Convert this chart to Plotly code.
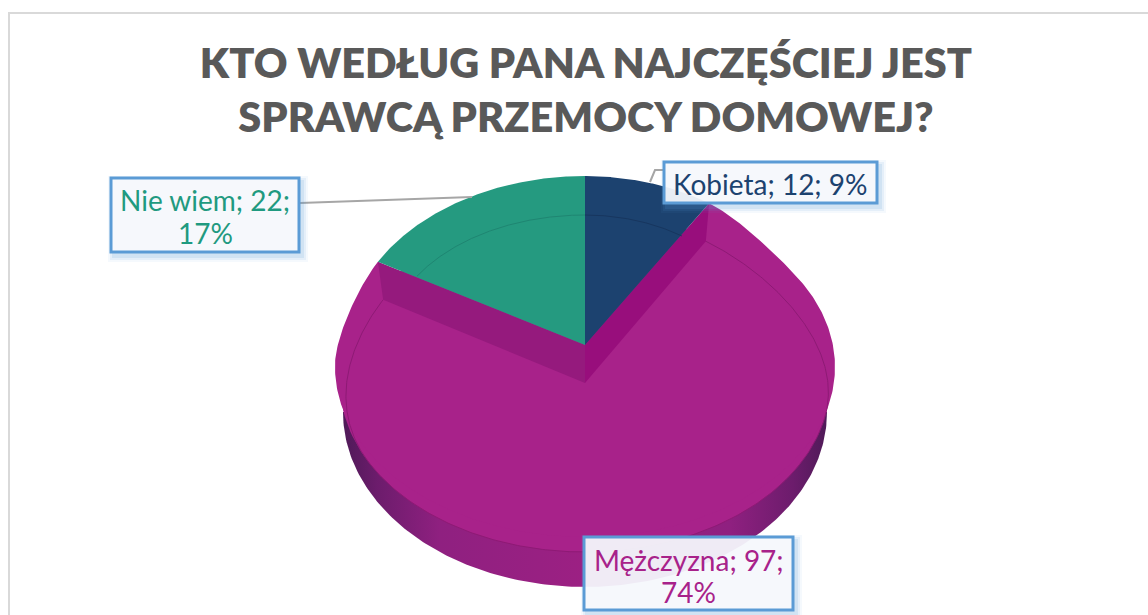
import numpy as np
import plotly.graph_objects as go

categories = ["Kobieta", "Mężczyzna", "Nie wiem"]
values = [12, 97, 22]
percent_labels = ["9%", "74%", "17%"]
title_lines = ["KTO WEDŁUG PANA NAJCZĘŚCIEJ JEST", "SPRAWCĄ PRZEMOCY DOMOWEJ?"]

NAVY, MAG, TEAL = "#1c426f", "#a8228a", "#259a80"
FONT = "Lato"

total = sum(values)
a0 = 0.0
a1 = a0 + 360 * values[0] / total
a2 = a1 + 360 * values[1] / total
a3 = 360.0


def pt(theta, cx, cy, rx, ry):
    t = np.radians(theta)
    return cx + rx * np.sin(t), cy - ry * np.cos(t)


def arc(t0, t1, cx, cy, rx, ry, n=200):
    return pt(np.linspace(t0, t1, n), cx, cy, rx, ry)


def smooth(u):
    u = np.clip(u, 0, 1)
    return u * u * (3 - 2 * u)


CX = 585
TOP_L = (CX, 345, 238, 169)
TOP_R = (CX, 345, 228, 169)
OUTER = (CX, 367, 250, 170)
FACE = (CX, 383, 245, 169)
SIDE = (CX, 412, 242, 175)

fig = go.Figure()


def poly(x, y, color):
    fig.add_trace(go.Scatter(x=list(x), y=list(y), mode="lines", fill="toself",
                             fillcolor=color, line=dict(width=0, color=color),
                             hoverinfo="skip", showlegend=False))


def line(x, y, color, width=1):
    fig.add_trace(go.Scatter(x=list(x), y=list(y), mode="lines",
                             line=dict(width=width, color=color),
                             hoverinfo="skip", showlegend=False))


# extruded side with horizontal shading
sx, sy = arc(90, 270, *SIDE)
fig.add_trace(go.Scatter(
    x=list(sx), y=list(sy), mode="lines", fill="toself", line=dict(width=0),
    fillgradient=dict(type="horizontal", colorscale=[
        [0, "#4f1a58"], [0.07, "#6c1c6c"], [0.2, "#8f2080"], [0.5, "#9c2083"],
        [0.8, "#8f2080"], [0.93, "#6c1c6c"], [1, "#4f1a58"]]),
    hoverinfo="skip", showlegend=False))

# magenta top face: silhouette eases from the pie rim to the exploded rim
th = np.linspace(a1, a2, 400)
w = smooth((th - a1) / 28) * smooth((a2 - th) / 28)
rx0 = np.where(th < 180, TOP_R[2], TOP_L[2])
rad = np.radians(th)
ox = CX + (OUTER[2] * w + rx0 * (1 - w)) * np.sin(rad)
oy = OUTER[1] * w + TOP_L[1] * (1 - w) - (OUTER[3] * w + TOP_L[3] * (1 - w)) * np.cos(rad)
fx, fy = arc(0, 360, *FACE)
poly(fx, fy, MAG)
poly(list(ox) + [CX], list(oy) + [FACE[1]], MAG)

# thin inner rim line of the magenta slice
w2 = smooth((th - a1) / 70)
w3 = smooth((a2 - th) / 60)
rxs = 222 + (245 - 222) * w2 + (232 - 245) * (1 - w3)
ix = CX + rxs * np.sin(rad)
iy = FACE[1] - FACE[3] * np.cos(rad)
line(ix, iy, "#8e1a75", 1)

# walls exposed by the exploded slice
tx, ty = pt(a2, *TOP_L)
bx, by = pt(a1, *TOP_R)
poly([tx, CX, CX, ix[-1]], [ty, TOP_L[1], FACE[1], iy[-1]], "#951a7d")
poly([bx, CX, CX, ix[0]], [by, TOP_L[1], FACE[1], iy[0]], "#980e7c")

# upper wedges
ax_, ay_ = arc(a0, a1, *TOP_R)
poly([CX] + list(ax_), [TOP_R[1]] + list(ay_), NAVY)
cx_, cy_ = arc(a2, a3, *TOP_L)
poly([CX] + list(cx_), [TOP_L[1]] + list(cy_), TEAL)
lx, ly = arc(a2, a3, CX, 345, 198, 130)
line(lx[8:], ly[8:], "#1f8672", 1)
lx, ly = arc(a0, a1, CX, 345, 178, 130)
line(lx, ly, "#17365f", 1)

# leader lines
line([300, 472], [203, 197], "#a6a6a6", 2)
line([650, 655, 664], [182, 170, 170], "#a6a6a6", 2)

shapes = [dict(type="rect", x0=9, y0=13, x1=1170, y1=640, xref="x", yref="y",
               line=dict(color="#d9d9d9", width=2), fillcolor="rgba(0,0,0,0)", layer="below")]
boxes = [(664, 162, 877, 203), (584, 537, 793, 610), (111, 178, 299, 252)]
for b in boxes:
    for grow, alpha in ((6, 0.06), (4, 0.10), (2, 0.14)):
        shapes.append(dict(type="rect", x0=b[0] + 3 - grow, y0=b[1] + 4 - grow,
                           x1=b[2] + 3 + grow, y1=b[3] + 4 + grow, xref="x", yref="y",
                           line=dict(width=0), fillcolor=f"rgba(91,155,213,{alpha})"))
    shapes.append(dict(type="rect", x0=b[0], y0=b[1], x1=b[2], y1=b[3], xref="x", yref="y",
                       line=dict(color="#5b9bd5", width=3),
                       fillcolor="rgba(248,250,253,0.92)"))

label_lines = [
    [f"{categories[0]}; {values[0]}; {percent_labels[0]}"],
    [f"{categories[1]}; {values[1]};", percent_labels[1]],
    [f"{categories[2]}; {values[2]};", percent_labels[2]],
]
label_ys = [[184], [560, 592], [200, 233]]
label_col = [NAVY, "#a8228a", "#1f9a80"]
annotations = []
for b, ls, ys, c in zip(boxes, label_lines, label_ys, label_col):
    for t, y in zip(ls, ys):
        annotations.append(dict(x=(b[0] + b[2]) / 2, y=y, xref="x", yref="y",
                                text=t, showarrow=False, align="center",
                                font=dict(family=FONT, size=28, color=c, weight=400)))

fig.update_layout(
    width=1148, height=615, margin=dict(l=0, r=0, t=0, b=0, autoexpand=False),
    paper_bgcolor="white", plot_bgcolor="white",
    xaxis=dict(range=[0, 1148], visible=False, fixedrange=True),
    yaxis=dict(range=[615, 0], visible=False, fixedrange=True),
    shapes=shapes, annotations=annotations,
    title=dict(text="<br>".join(title_lines), x=586 / 1148, xanchor="center",
               y=1 - 78 / 615, yanchor="middle",
               font=dict(family=FONT, size=41.5, color="#595959", weight=800)),
)
fig.write_html("out.html", post_script="document.body.style.margin='0';",
               config={"displayModeBar": False})
